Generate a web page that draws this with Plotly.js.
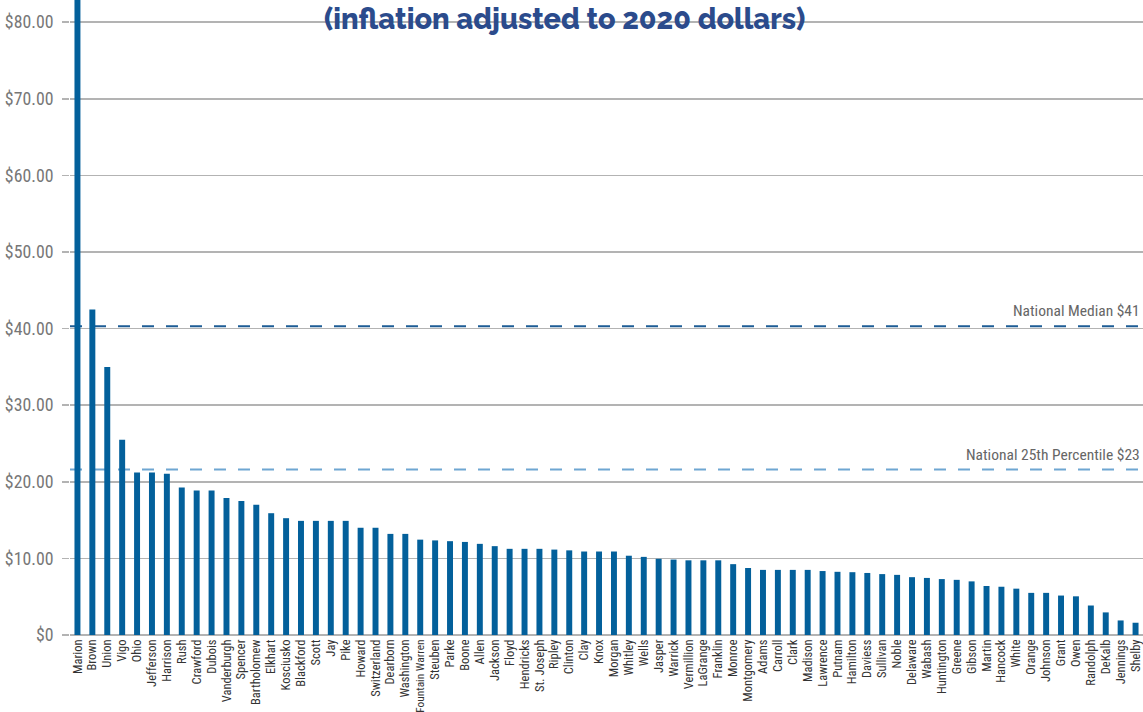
<!DOCTYPE html>
<html>
<head>
<meta charset="utf-8">
<script src="https://cdn.plot.ly/plotly-3.0.1.min.js"></script>
<style>
  html, body { margin: 0; padding: 0; background: #fff; }
  #chart { width: 1143px; height: 712px; }
</style>
</head>
<body>
<div id="chart"></div>
<script>
const counties = ["Marion","Brown","Union","Vigo","Ohio","Jefferson","Harrison","Rush","Crawford","Dubois","Vanderburgh","Spencer","Bartholomew","Elkhart","Kosciusko","Blackford","Scott","Jay","Pike","Howard","Switzerland","Dearborn","Washington","Fountain Warren","Steuben","Parke","Boone","Allen","Jackson","Floyd","Hendricks","St. Joseph","Ripley","Clinton","Clay","Knox","Morgan","Whitley","Wells","Jasper","Warrick","Vermillion","LaGrange","Franklin","Monroe","Montgomery","Adams","Carroll","Clark","Madison","Lawrence","Putnam","Hamilton","Daviess","Sullivan","Noble","Delaware","Wabash","Huntington","Greene","Gibson","Martin","Hancock","White","Orange","Johnson","Grant","Owen","Randolph","DeKalb","Jennings","Shelby"];

const values = [82.9,42.5,35.0,25.5,21.2,21.2,21.05,19.25,18.85,18.85,17.9,17.5,17.0,15.9,15.25,14.9,14.9,14.9,14.9,14.0,14.0,13.2,13.2,12.45,12.35,12.25,12.15,11.9,11.6,11.25,11.25,11.25,11.15,11.05,10.9,10.9,10.9,10.35,10.2,9.95,9.85,9.75,9.75,9.75,9.25,8.75,8.5,8.5,8.5,8.5,8.35,8.25,8.2,8.1,7.95,7.85,7.55,7.45,7.3,7.2,7.0,6.4,6.3,6.05,5.5,5.5,5.15,5.05,3.85,2.95,1.9,1.6];

const yTickVals = [0,10,20,30,40,50,60,70,80];
const yTickText = ["$0","$10.00","$20.00","$30.00","$40.00","$50.00","$60.00","$70.00","$80.00"];

const refValues = [40.3, 21.6];
const refLabels = ["National Median $41", "National 25th Percentile $23"];
const refColors = ["#1d5c95", "#6ea6d2"];

const titleText = "(inflation adjusted to 2020 dollars)";

const narrow = '"Roboto Condensed", "Liberation Sans", sans-serif';

// long labels are slightly condensed so they stay inside the picture
const tickLabels = counties.map(c => c.length > 13 ? '<span style="font-size:11.4px">' + c + '</span>' : c);

const trace = {
  type: 'bar',
  x: counties,
  y: values,
  marker: { color: '#03609b', line: { width: 0 } },
  hoverinfo: 'x+y'
};

const shapes = refValues.map((v, i) => ({
  type: 'line', xref: 'paper', x0: 0, x1: 1, yref: 'y', y0: v, y1: v,
  line: { color: refColors[i], width: 2, dash: '12px,12px' },
  layer: 'between'
}));

const annotations = refValues.map((v, i) => ({
  xref: 'paper', x: 0.9995, xanchor: 'right',
  yref: 'y', y: v, yanchor: 'bottom', yshift: 4,
  text: refLabels[i], showarrow: false,
  font: { family: narrow, size: 15.5, color: '#666666' }
}));

const layout = {
  width: 1143, height: 712,
  margin: { l: 70, r: 0, t: 0, b: 77, pad: 0 },
  paper_bgcolor: '#ffffff', plot_bgcolor: '#ffffff',
  showlegend: false,
  bargap: 0.6,
  title: {
    text: titleText,
    xref: 'container', x: 0.494, xanchor: 'center',
    yref: 'container', y: 0.973, yanchor: 'middle',
    font: { family: 'Raleway, Montserrat, sans-serif', size: 28.8, color: '#2b4b8c', weight: 800 }
  },
  xaxis: {
    type: 'category',
    range: [-0.5, counties.length - 0.5],
    tickmode: 'array', tickvals: counties, ticktext: tickLabels,
    tickangle: -90,
    automargin: false,
    showgrid: false, zeroline: false, showline: false,
    ticks: '',
    ticklabelstandoff: 1,
    tickfont: { family: narrow, size: 12.5, color: '#333333' }
  },
  yaxis: {
    range: [0, 82.9],
    tickvals: yTickVals, ticktext: yTickText,
    automargin: false,
    showgrid: true, gridcolor: '#b3b3b3', gridwidth: 1.5,
    zeroline: true, zerolinecolor: '#b3b3b3', zerolinewidth: 1.5,
    showline: false,
    ticks: 'outside', ticklen: 7, tickcolor: '#b3b3b3', tickwidth: 1.5,
    ticklabelstandoff: 5,
    tickfont: { family: narrow, size: 17.8, color: '#777777' }
  },
  shapes: shapes,
  annotations: annotations
};

Plotly.newPlot('chart', [trace], layout, { displayModeBar: false, staticPlot: true });
</script>
</body>
</html>
